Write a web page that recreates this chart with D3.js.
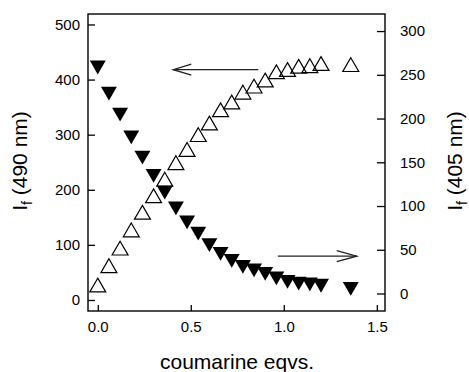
<!DOCTYPE html>
<html>
<head>
<meta charset="utf-8">
<script src="https://cdn.jsdelivr.net/npm/d3@7"></script>
<style>
  body { margin: 0; background: #fff; }
  svg { display: block; font-family: "Liberation Sans", Arial, sans-serif; }
</style>
</head>
<body>
<svg id="chart" width="469" height="372"></svg>
<script>
//
// Data
//

// coumarine equivalents (x)
var eqvs = [0, 0.06, 0.12, 0.18, 0.24, 0.30, 0.36, 0.42, 0.48, 0.54, 0.60,
            0.66, 0.72, 0.78, 0.84, 0.90, 0.96, 1.02, 1.08, 1.14, 1.20, 1.36]
// If at 490 nm, open triangles, left axis
var if490 = [23, 58, 90, 123, 155, 185, 215, 245, 269, 296, 317,
             341, 355, 373, 384, 395, 410, 414, 420, 421, 425, 423]
// If at 405 nm, filled triangles, right axis
var if405 = [261, 231, 207, 181, 158, 137, 118, 100, 84, 71, 58,
             48, 40, 33, 29, 25, 20, 16, 14, 13, 11.5, 8]

var xTicks = [0, 0.5, 1.0, 1.5]
var leftTicks = [0, 100, 200, 300, 400, 500]
var rightTicks = [0, 50, 100, 150, 200, 250, 300]

// arrows: [x0, x1, y] in data units, pointing from x0 to x1
var arrowLeft = [0.863, 0.406, 418]
var arrowRight = [0.968, 1.392, 42.7]

//
// Layout
//

// plot frame (note: "top" is taken by window.top)
var frameL = 88, frameR = 385, frameT = 14, frameB = 311
var svg = d3.select('#chart')

var x = d3.scaleLinear().domain([-0.0525, 1.544]).range([frameL, frameR])
var yL = d3.scaleLinear().domain([-20, 519]).range([frameB, frameT])
var yR = d3.scaleLinear().domain([-20, 319.5]).range([frameB, frameT])

function styleAxis(g) {
  g.select('.domain').remove()
  g.selectAll('.tick line').attr('stroke', '#000').attr('stroke-width', 1.3)
  g.selectAll('.tick text')
    .attr('fill', '#000')
    .style('font-size', '15px')
    .style('font-family', '"Liberation Sans", Arial, sans-serif')
}

svg.append('g')
  .attr('transform', 'translate(0,' + frameB + ')')
  .call(d3.axisBottom(x).tickValues(xTicks).tickFormat(d3.format('.1f'))
    .tickSizeInner(-6).tickSizeOuter(0).tickPadding(10))
  .call(styleAxis)

svg.append('g')
  .attr('transform', 'translate(' + frameL + ',0)')
  .call(d3.axisLeft(yL).tickValues(leftTicks)
    .tickSizeInner(-7).tickSizeOuter(0).tickPadding(8))
  .call(styleAxis)

svg.append('g')
  .attr('transform', 'translate(' + frameR + ',0)')
  .call(d3.axisRight(yR).tickValues(rightTicks)
    .tickSizeInner(-8).tickSizeOuter(0).tickPadding(15))
  .call(styleAxis)

// frame
svg.append('rect')
  .attr('x', frameL).attr('y', frameT)
  .attr('width', frameR - frameL).attr('height', frameB - frameT)
  .attr('fill', 'none').attr('stroke', '#000').attr('stroke-width', 1.4)

//
// Markers
//

var tri = d3.symbol().type(d3.symbolTriangle).size(110)

svg.append('g').selectAll('path')
  .data(eqvs)
  .join('path')
  .attr('d', tri)
  .attr('transform', function(d, i) {
    return 'translate(' + x(d) + ',' + yR(if405[i]) + ') rotate(180)'
  })
  .attr('fill', '#000')

svg.append('g').selectAll('path')
  .data(eqvs)
  .join('path')
  .attr('d', tri)
  .attr('transform', function(d, i) {
    return 'translate(' + x(d) + ',' + yL(if490[i]) + ')'
  })
  .attr('fill', 'none')
  .attr('stroke', '#000')
  .attr('stroke-width', 1.2)

//
// Arrows
//

function arrow(a, yScale, headLen) {
  var x0 = x(a[0]), x1 = x(a[1]), y = yScale(a[2])
  var dir = x1 > x0 ? -1 : 1
  svg.append('line')
    .attr('x1', x0).attr('x2', x1).attr('y1', y).attr('y2', y)
    .attr('stroke', '#222').attr('stroke-width', 1.3)
  svg.append('path')
    .attr('d', 'M' + (x1 + dir * headLen) + ',' + (y - 5.5) +
               'L' + x1 + ',' + y +
               'L' + (x1 + dir * headLen) + ',' + (y + 5.5))
    .attr('fill', 'none').attr('stroke', '#222').attr('stroke-width', 1.3)
}
arrow(arrowLeft, yL, 18)
arrow(arrowRight, yR, 20)

//
// Titles
//

svg.append('text')
  .attr('x', 237).attr('y', 369)
  .attr('text-anchor', 'middle')
  .style('font-size', '21px')
  .text('coumarine eqvs.')

function yTitle(xPos, label) {
  var t = svg.append('text')
    .attr('transform', 'translate(' + xPos + ',161) rotate(-90)')
    .attr('text-anchor', 'middle')
    .style('font-size', '21px')
  t.append('tspan').text('I')
  t.append('tspan').attr('dy', 5).style('font-size', '14px').text('f')
  t.append('tspan').attr('dy', -5).text(' (' + label + ')')
}
yTitle(27, '490 nm')
yTitle(462, '405 nm')
</script>
</body>
</html>
